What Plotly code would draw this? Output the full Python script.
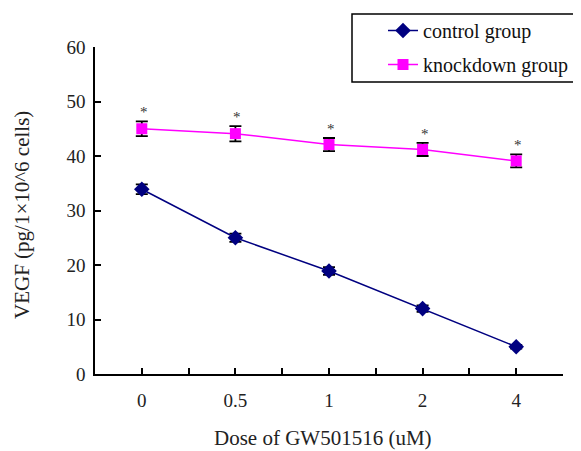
import plotly.graph_objects as go

doses = ["0", "0.5", "1", "2", "4"]
control_vals = [33.9, 25.0, 18.9, 12.0, 5.0]
control_err = [0.9, 0.75, 0.7, 0.6, 0.35]
knock_vals = [45.0, 44.1, 42.1, 41.2, 39.1]
knock_err = [1.35, 1.4, 1.2, 1.2, 1.2]
y_ticks = [0, 10, 20, 30, 40, 50, 60]

xpos = list(range(len(doses)))
FONT = "Liberation Serif, Times New Roman, serif"

# page offset of the figure div (body margin) and plot-area geometry
OFF = 8
L, T, PW, PH = 95 - OFF, 47 - OFF, 468, 327
W, H = 581 - OFF, 451 - OFF


def px(x):
    return (x - OFF - L) / PW


def py(y):
    return (T + PH - (y - OFF)) / PH


fig = go.Figure()
fig.add_trace(go.Scatter(
    x=xpos, y=control_vals, name="control group", mode="lines+markers",
    line=dict(color="#000080", width=1.5),
    marker=dict(symbol="diamond", size=12, color="#000080"),
    error_y=dict(type="data", array=control_err, color="black", thickness=1.8, width=6),
    legendgroup="a",
))
fig.add_trace(go.Scatter(
    x=xpos, y=knock_vals, name="knockdown group", mode="lines+markers",
    line=dict(color="#ff00ff", width=1.5),
    marker=dict(symbol="square", size=11, color="#ff00ff"),
    error_y=dict(type="data", array=knock_err, color="black", thickness=1.8, width=6),
    legendgroup="b",
))

for x, v, e in zip(xpos, knock_vals, knock_err):
    fig.add_annotation(x=x, y=v + e, yshift=9, xshift=2, text="*", showarrow=False,
                       font=dict(family=FONT, size=15, color="#333333"))

fig.add_annotation(xref="paper", yref="paper", x=px(323), y=py(438), yanchor="middle",
                   text="Dose of GW501516 (uM)", showarrow=False,
                   font=dict(family=FONT, size=21, color="#222222"))
fig.add_annotation(xref="paper", yref="paper", x=px(22), y=py(215), xanchor="center",
                   yanchor="middle", textangle=-90,
                   text="VEGF (pg/1×10^6 cells)", showarrow=False,
                   font=dict(family=FONT, size=21, color="#222222"))

fig.add_shape(type="rect", xref="paper", yref="paper",
              x0=px(352), x1=px(592), y0=py(82), y1=py(14),
              line=dict(color="black", width=1.5), fillcolor="white", layer="below")

fig.update_layout(
    width=W, height=H,
    margin=dict(l=L, r=W - L - PW, t=T, b=H - T - PH, autoexpand=False),
    paper_bgcolor="white", plot_bgcolor="white",
    font=dict(family=FONT, size=19, color="#222222"),
    showlegend=True,
    legend=dict(x=px(383), y=py(11), xanchor="left", yanchor="top",
                bgcolor="rgba(0,0,0,0)", borderwidth=0,
                font=dict(family=FONT, size=20, color="#111111"),
                tracegroupgap=5),
    xaxis=dict(range=[-0.5, 4.5], tickmode="array", tickvals=xpos, ticktext=doses,
               showline=True, linecolor="black", linewidth=1.5,
               ticks="inside", ticklen=6, tickwidth=1.5, tickcolor="black",
               showgrid=False, zeroline=False, ticklabelstandoff=8,
               minor=dict(tickmode="linear", tick0=-0.5, dtick=1, ticks="inside",
                          ticklen=6, tickwidth=1.5, tickcolor="black", showgrid=False),
               tickfont=dict(family=FONT, size=19, color="#222222")),
    yaxis=dict(range=[0, 60], tickmode="array", tickvals=y_ticks,
               showline=True, linecolor="black", linewidth=1.5,
               ticks="inside", ticklen=6, tickwidth=1.5, tickcolor="black",
               showgrid=False, zeroline=False, ticklabelstandoff=4,
               tickfont=dict(family=FONT, size=19, color="#222222")),
)

fig.write_html("out.html")
